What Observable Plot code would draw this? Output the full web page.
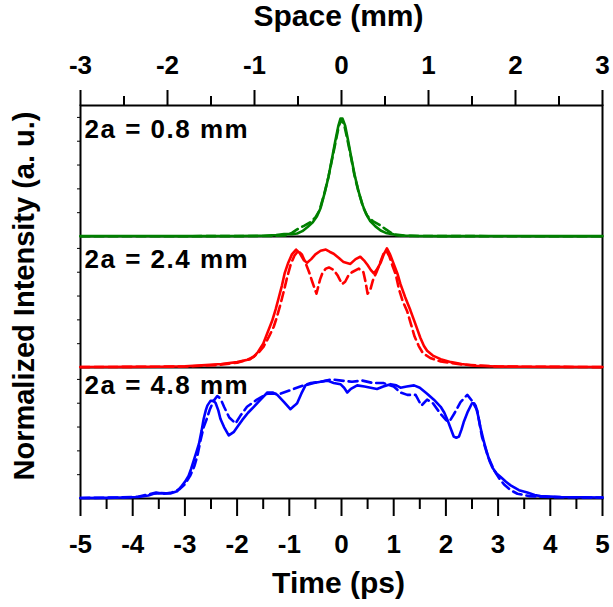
<!DOCTYPE html>
<html>
<head>
<meta charset="utf-8">
<script src="https://cdn.jsdelivr.net/npm/d3@7"></script>
<script src="https://cdn.jsdelivr.net/npm/@observablehq/plot@0.6"></script>
<style>
  html, body { margin: 0; padding: 0; background: #fff; }
  .panel-label text { letter-spacing: 1.5px; }
</style>
</head>
<body>
<div id="chart"></div>
<script>
// ---- tick labels ----
const timeTicks = [-5, -4, -3, -2, -1, 0, 1, 2, 3, 4, 5];
const timeMinor = [-4.5, -3.5, -2.5, -1.5, -0.5, 0.5, 1.5, 2.5, 3.5, 4.5];
const spaceTicks = [-3, -2, -1, 0, 1, 2, 3];
const spaceMinor = [-2.5, -1.5, -0.5, 0.5, 1.5, 2.5];
const intensityTicks = [0.2, 0.4, 0.6, 0.8, 1.0];

// ---- panels ----
const panelLabels = ["2a = 0.8 mm", "2a = 2.4 mm", "2a = 4.8 mm"];
const panelColors = ["#008000", "#ff0000", "#0000ff"];

// ---- series values [time (ps), normalized intensity] ----
const greenSolid = [[-5,0.003],[-4,0.004],[-3,0.003],[-2,0.004],[-1.5,0.006],[-1.25,0.012],[-1.1,0.02],[-0.95,0.02],[-0.85,0.025],[-0.75,0.045],[-0.65,0.08],[-0.55,0.12],[-0.47,0.17],[-0.4,0.24],[-0.32,0.37],[-0.25,0.5],[-0.18,0.66],[-0.12,0.8],[-0.06,0.93],[-0.02,0.99],[0.02,0.99],[0.07,0.93],[0.12,0.82],[0.18,0.68],[0.25,0.52],[0.32,0.39],[0.4,0.27],[0.47,0.19],[0.55,0.13],[0.65,0.085],[0.75,0.05],[0.85,0.03],[1.0,0.018],[1.2,0.008],[1.5,0.004],[2,0.003],[3,0.004],[4,0.003],[5,0.003]];
const greenDashed = [[-5,0.002],[-2,0.003],[-1.3,0.005],[-1.05,0.01],[-0.95,0.03],[-0.85,0.06],[-0.72,0.09],[-0.6,0.12],[-0.5,0.16],[-0.42,0.22],[-0.33,0.36],[-0.25,0.5],[-0.18,0.65],[-0.11,0.8],[-0.05,0.93],[0,0.98],[0.05,0.94],[0.11,0.82],[0.18,0.67],[0.25,0.51],[0.33,0.37],[0.42,0.24],[0.5,0.17],[0.6,0.13],[0.72,0.1],[0.85,0.06],[0.95,0.03],[1.05,0.01],[1.3,0.005],[2,0.003],[5,0.002]];
const redSolid = [[-5,0.004],[-4,0.005],[-3.5,0.006],[-3,0.01],[-2.6,0.02],[-2.3,0.03],[-2.0,0.045],[-1.8,0.065],[-1.68,0.09],[-1.6,0.13],[-1.5,0.2],[-1.42,0.29],[-1.33,0.39],[-1.26,0.49],[-1.2,0.59],[-1.14,0.69],[-1.09,0.79],[-1.02,0.88],[-0.95,0.95],[-0.87,0.99],[-0.8,0.96],[-0.72,0.9],[-0.66,0.88],[-0.58,0.91],[-0.5,0.95],[-0.4,0.98],[-0.3,0.99],[-0.22,0.97],[-0.15,0.955],[-0.05,0.92],[0.04,0.885],[0.17,0.87],[0.27,0.91],[0.36,0.93],[0.43,0.9],[0.5,0.86],[0.56,0.82],[0.62,0.79],[0.69,0.83],[0.75,0.88],[0.81,0.95],[0.87,1.0],[0.93,0.95],[1.0,0.87],[1.07,0.79],[1.13,0.7],[1.22,0.59],[1.32,0.48],[1.42,0.36],[1.51,0.25],[1.58,0.18],[1.64,0.14],[1.75,0.1],[1.9,0.07],[2.1,0.045],[2.3,0.03],[2.55,0.015],[3,0.008],[3.5,0.006],[4,0.005],[5,0.004]];
const redDashed = [[-5,0.003],[-3,0.008],[-2.4,0.02],[-2.0,0.04],[-1.75,0.07],[-1.6,0.12],[-1.5,0.17],[-1.4,0.25],[-1.3,0.34],[-1.24,0.42],[-1.17,0.53],[-1.1,0.65],[-1.04,0.76],[-0.97,0.87],[-0.9,0.94],[-0.83,0.98],[-0.76,0.95],[-0.69,0.88],[-0.62,0.8],[-0.56,0.72],[-0.48,0.62],[-0.41,0.74],[-0.36,0.8],[-0.3,0.83],[-0.24,0.84],[-0.15,0.82],[-0.07,0.77],[0.01,0.7],[0.07,0.72],[0.13,0.77],[0.2,0.8],[0.33,0.83],[0.42,0.8],[0.46,0.72],[0.5,0.62],[0.55,0.65],[0.6,0.73],[0.67,0.8],[0.74,0.88],[0.8,0.95],[0.86,0.98],[0.92,0.93],[0.98,0.85],[1.04,0.78],[1.1,0.66],[1.17,0.56],[1.26,0.47],[1.34,0.35],[1.4,0.26],[1.48,0.18],[1.56,0.12],[1.7,0.08],[1.9,0.05],[2.3,0.025],[3,0.008],[5,0.003]];
const blueSolid = [[-5,0.004],[-4.5,0.005],[-4.2,0.008],[-3.9,0.012],[-3.7,0.025],[-3.6,0.04],[-3.45,0.045],[-3.28,0.042],[-3.15,0.06],[-3.08,0.095],[-3.0,0.14],[-2.93,0.19],[-2.88,0.25],[-2.83,0.32],[-2.78,0.39],[-2.73,0.46],[-2.68,0.57],[-2.64,0.67],[-2.6,0.74],[-2.57,0.78],[-2.51,0.82],[-2.45,0.82],[-2.41,0.8],[-2.36,0.74],[-2.32,0.67],[-2.25,0.6],[-2.16,0.53],[-2.06,0.56],[-1.98,0.61],[-1.9,0.66],[-1.79,0.72],[-1.68,0.77],[-1.55,0.83],[-1.42,0.89],[-1.32,0.89],[-1.23,0.87],[-1.1,0.81],[-0.98,0.75],[-0.9,0.78],[-0.85,0.8],[-0.77,0.88],[-0.69,0.95],[-0.53,0.97],[-0.4,0.98],[-0.27,0.99],[-0.15,0.97],[-0.02,0.96],[0.05,0.93],[0.11,0.89],[0.18,0.92],[0.3,0.95],[0.44,0.94],[0.56,0.93],[0.68,0.92],[0.8,0.94],[0.94,0.96],[1.05,0.95],[1.13,0.93],[1.25,0.94],[1.39,0.95],[1.5,0.93],[1.64,0.88],[1.77,0.83],[1.9,0.77],[1.97,0.72],[2.03,0.66],[2.09,0.59],[2.15,0.52],[2.2,0.51],[2.25,0.52],[2.3,0.58],[2.34,0.64],[2.42,0.73],[2.5,0.8],[2.54,0.8],[2.57,0.78],[2.62,0.69],[2.66,0.6],[2.72,0.49],[2.79,0.38],[2.84,0.31],[2.89,0.26],[2.97,0.21],[3.05,0.18],[3.15,0.14],[3.24,0.11],[3.4,0.07],[3.56,0.05],[3.7,0.03],[3.81,0.02],[4.2,0.012],[4.6,0.01],[5,0.008]];
const blueDashed = [[-5,0.004],[-4.3,0.008],[-3.9,0.015],[-3.7,0.035],[-3.55,0.05],[-3.4,0.04],[-3.25,0.05],[-3.1,0.08],[-3.0,0.12],[-2.9,0.19],[-2.82,0.27],[-2.76,0.36],[-2.7,0.49],[-2.64,0.6],[-2.58,0.67],[-2.52,0.75],[-2.45,0.82],[-2.38,0.86],[-2.32,0.84],[-2.25,0.77],[-2.15,0.68],[-2.03,0.63],[-1.93,0.7],[-1.81,0.77],[-1.62,0.83],[-1.42,0.88],[-1.17,0.88],[-0.98,0.91],[-0.79,0.94],[-0.59,0.97],[-0.4,0.98],[-0.2,1.0],[0,0.99],[0.2,0.98],[0.4,0.99],[0.6,0.97],[0.8,0.97],[1.0,0.94],[1.13,0.89],[1.26,0.87],[1.42,0.87],[1.53,0.78],[1.64,0.83],[1.75,0.8],[1.9,0.71],[2.0,0.66],[2.06,0.64],[2.17,0.72],[2.28,0.81],[2.41,0.87],[2.5,0.82],[2.6,0.74],[2.69,0.52],[2.8,0.36],[2.92,0.24],[3.02,0.17],[3.11,0.12],[3.24,0.07],[3.37,0.04],[3.6,0.02],[4,0.012],[5,0.008]];

// ---- layout of stacked panels (top to bottom) ----
const PANEL = 1.1;            // y-extent of each panel in intensity units
const nPanels = 3;
const psToMm = 0.6;           // -5..5 ps <-> -3..3 mm
const offsetOf = i => (nPanels - 1 - i) * PANEL;

const seriesList = [
  {panel: 0, dash: false, values: greenSolid},
  {panel: 0, dash: true,  values: greenDashed},
  {panel: 1, dash: false, values: redSolid},
  {panel: 1, dash: true,  values: redDashed},
  {panel: 2, dash: false, values: blueSolid},
  {panel: 2, dash: true,  values: blueDashed}
];
const rows = seriesList.flatMap((s, k) => s.values.map(([t, v]) => ({
  t, y: v + offsetOf(s.panel), key: k, panel: s.panel, dash: s.dash
})));

const boundaries = d3.range(1, nPanels).map(i => i * PANEL);
const yTickPositions = d3.range(nPanels).flatMap(i => intensityTicks.map(v => v + i * PANEL));

const font = "'Liberation Sans', Arial, sans-serif";
const labelDy = [32, 31, 26];

const marks = [
  Plot.ruleY(boundaries, {stroke: "black", strokeWidth: 2}),
  Plot.frame({stroke: "black", strokeWidth: 2}),
  // bottom axis (time)
  Plot.axisX(timeMinor, {anchor: "bottom", tickSize: 11, strokeWidth: 2, tickFormat: () => "", label: null}),
  Plot.axisX(timeTicks, {anchor: "bottom", tickSize: 18, tickPadding: 18, strokeWidth: 2,
    tickFormat: d => String(d), fontSize: 26, fontWeight: "bold", label: null}),
  // top axis (space)
  Plot.axisX(spaceMinor.map(m => m / psToMm), {anchor: "top", tickSize: 10, strokeWidth: 2, tickFormat: () => "", label: null}),
  Plot.axisX(spaceTicks.map(m => m / psToMm), {anchor: "top", tickSize: 16, tickPadding: 16, strokeWidth: 2,
    tickFormat: d => String(Math.round(d * psToMm)), fontSize: 26, fontWeight: "bold", label: null}),
  // left axis ticks (no labels)
  Plot.axisY(yTickPositions, {anchor: "left", tickSize: 3, strokeWidth: 1, tickFormat: () => "", label: null}),
  // titles
  Plot.text(["Time (ps)"], {frameAnchor: "bottom", lineAnchor: "bottom", dy: 94, dx: -3, fontSize: 30, fontWeight: "bold"}),
  Plot.text(["Space (mm)"], {frameAnchor: "top", lineAnchor: "bottom", dy: -80, dx: -3, fontSize: 30, fontWeight: "bold"}),
  Plot.text(["Normalized Intensity (a. u.)"], {frameAnchor: "left", textAnchor: "middle", lineAnchor: "bottom",
    rotate: -90, dx: -47, dy: -6, fontSize: 29, fontWeight: "bold"}),
  // curves
  ...seriesList.map((s, k) => Plot.line(rows.filter(r => r.key === k), {
    x: "t", y: "y", stroke: panelColors[s.panel], strokeWidth: 2.6,
    strokeDasharray: s.dash ? "9,5" : null, curve: "linear"
  })),
  // panel labels
  ...panelLabels.map((lab, i) => Plot.text([lab], {
    x: () => -5, y: () => offsetOf(i) + PANEL, textAnchor: "start", lineAnchor: "bottom",
    dx: 4, dy: labelDy[i], fontSize: 26, fontWeight: "bold", className: "panel-label"
  }))
];

const chart = Plot.plot({
  width: 613,
  height: 607,
  marginLeft: 80,
  marginRight: 11,
  marginTop: 105,
  marginBottom: 109,
  style: {fontFamily: font, color: "black", background: "white", overflow: "visible"},
  x: {domain: [-5, 5]},
  y: {domain: [0, nPanels * PANEL]},
  marks
});
document.getElementById("chart").appendChild(chart);
</script>
</body>
</html>
